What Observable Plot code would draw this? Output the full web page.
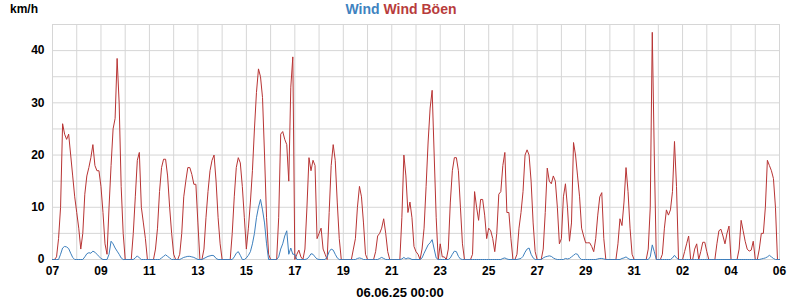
<!DOCTYPE html>
<html>
<head>
<meta charset="utf-8">
<script src="https://cdn.jsdelivr.net/npm/d3@7"></script>
<script src="https://cdn.jsdelivr.net/npm/@observablehq/plot@0.6"></script>
<style>
  html, body { margin: 0; padding: 0; background: #fff; }
  svg { font-family: "Liberation Sans", Arial, sans-serif; }
</style>
</head>
<body>
<div id="chart"></div>
<script>
// Series: 2-hourly samples starting 2025-05-07 00:00 (UTC), ending 2025-06-06 00:00
const startDate = Date.UTC(2025, 4, 7);
const stepHours = 2;

// Wind Böen (gusts), km/h — 12 values per day
const gust = [
  0,0,0.5,4,10,26,24,23,24,20,16,12,            // 07
  9,6,2,5,12.5,16,17.6,19.5,22,18,17,17,        // 08
  14,9,3,1,10,18,25,27,38.5,30,14,5,            // 09
  0,0,0,0,5,12,19,20.5,10,7,4,0,                // 10
  0,0,0,2,6,13,17.6,19.2,19.2,16,10,5,          // 11
  1,0,0,1,5,12,15,17.6,17.6,16.3,14.4,14.4,     // 12
  7,0,0,2,8,13,17,19,20,15,8,3,                 // 13
  0,0,0,0,0,5,12,17.6,19.5,18.5,14,8,           // 14
  2,6,11,17,25,32,36.5,35,31,20,8,1,            // 15
  0,0,0,0,8,24,24.5,23,22,15,33,38.8,           // 16
  0,1,1.8,0.5,0,2,10,19.5,17,19,18,4,           // 17
  5,6,2,1,0,9,18,22,19,11,4,0,                  // 18
  0,0,0,0,0,2,4,10,14,12,7,1,                   // 19
  0,0,0,0,1.5,4.5,5,6,7.8,5,1.5,0,              // 20
  0,0,0,0,0,8,20,16,9,11,8,2.5,                 // 21
  1.5,1,0,2,6,14,22.5,29,32.4,20,8,0,           // 22
  3,0.5,0.5,0,2,11,17,19.5,19.5,17,10,3,        // 23
  0,0,0,0,1,13,10,7.5,11.5,11.5,8.5,4,          // 24
  6,5.5,4,1.5,5,12.5,13,18,20.5,9,9,4,          // 25
  0,0,1,6,9,13,20,21,20,15,7,1.5,               // 26
  0,0,0,2,9,17.5,15,14.5,16,15,10,3,            // 27
  4,12,14.5,10,3.5,7,22.4,20,16,12,6,4.5,       // 28
  3.2,3.2,3.2,2.5,1.5,4,8.5,12,12.8,4,0,0,      // 29
  0,0,0,0,3,7.8,6.5,11,17.6,13,6,1,             // 30
  0,0,0,0,0,0,0,2,10,43.5,20,0,                 // 31
  0,0,1,6,9.5,8.5,9.5,13,22.6,14,0,0,           // 01
  0,1.5,3,4.5,0,0,2,3,0,1.5,3.3,3.3,            // 02
  1.5,0,0,0,0,3,5.5,5.8,4.5,3,5,6.4,            // 03
  0,0,0,0,2,7.5,5.5,3.5,2,1.6,1.8,3.5,          // 04
  0,0,2,5,5,10,19,18,17,15.5,10,0,              // 05
  0                                              // 06 00:00
];

// Wind, km/h — 12 values per day
const wind = [
  0,0,0,0,1,2.2,2.5,2.4,2.1,1.2,0.4,0,          // 07
  0,0,0,0,0.5,1.1,1.3,1.2,1.6,1.4,1,0.6,        // 08
  0.2,0,0,0,1,3.5,3,2.2,1.6,1,0.3,0,            // 09
  0,0,0,0,0,0.3,0.7,0.3,0,0,0,0,                // 10
  0,0,0,0,0,0,0.3,0.6,0.9,0.6,0.3,0,            // 11
  0,0,0,0,0.2,0.4,0.5,0.6,0.6,0.5,0.4,0.2,      // 12
  0,0,0,0.2,0.4,0.6,0.7,0.8,0.7,0.2,0,0,        // 13
  0,0,0,0,0,0,0.5,1.2,1.5,0.8,0,0,              // 14
  0.3,0.8,1.5,3,5,8,10,11.5,9.5,7,3,0,          // 15
  0,0,0,0,0.5,2,3,4.5,5.5,1,2.2,1,              // 16
  1,0,0,0,0,0,0.1,0.5,1.1,1,0.5,0.1,            // 17
  0,0,0,0,0.5,1.5,2,1.8,1,0.3,0,0,              // 18
  0,0,0,0,0,0,0,0.2,0.3,0.2,0,0,                // 19
  0,0,0,0,0,0,0.2,0.4,0.2,0,0,0,                // 20
  0,0,0,0,0,0.1,0.4,0.1,0.3,0.2,0,0,            // 21
  0,0,0,0.3,1.2,2,2.8,3.2,3.8,2,0.3,0,          // 22
  0,0,0,0,0,0.3,1,1.6,1.5,0.6,0.1,0,            // 23
  0,0,0,0,0,0,0,0,0,0,0,0,                      // 24
  0,0,0,0,0,0,0,0.2,0.3,0.1,0,0,                // 25
  0,0,0,0.1,0.2,0.6,1.4,2,2.2,1,0.3,0,          // 26
  0,0,0,0.3,0.5,0.6,0.7,0.6,0.3,0.1,0,0,        // 27
  0,0,0.2,0.1,0.2,0.5,0.8,1.1,1,0.3,0,0,        // 28
  0,0,0,0,0,0,0.1,0.2,0.2,0.1,0,0,              // 29
  0,0,0,0,0,0,0.2,0.3,0.5,0.2,0,0,              // 30
  0,0,0,0,0,0,0,0,0.5,2.8,1.5,0,                // 31
  0,0,0,0,0,0,0,0.3,0.8,0.3,0,0,                // 01
  0,0,0,0,0,0,0,0,0,0,0,0,                      // 02
  0,0,0,0,0,0,0,0,0,0,0,0,                      // 03
  0,0,0,0,0,0,0,0,0,0,0,0,                      // 04
  0,0,0,0.1,0.2,0.3,0.5,0.8,0.5,0.2,0,0,        // 05
  0                                              // 06 00:00
];

const yLabelTicks = [0, 10, 20, 30, 40];
const yGridTicks = [0, 5, 10, 15, 20, 25, 30, 35, 40, 45];
const dayCount = 30;
const titleParts = ["Wind", "Wind Böen"];
const unitLabel = "km/h";
const dateLabel = "06.06.25 00:00";

const DAY = 24 * 3600e3;
const rows = gust.map((g, i) => ({
  t: new Date(startDate + i * stepHours * 3600e3),
  gust: g,
  wind: wind[i]
}));
const dayGrid = d3.range(0, dayCount + 1).map(i => new Date(startDate + i * DAY));
const dayLabels = d3.range(0, dayCount + 1, 2).map(i => new Date(startDate + i * DAY));

const red = "#b83434";
const blue = "#3d7fbd";
const grid = "#d6d6d6";

const chart = Plot.plot({
  width: 800,
  height: 300,
  marginLeft: 52,
  marginRight: 21,
  marginTop: 24,
  marginBottom: 41,
  style: { fontFamily: "'Liberation Sans', Arial, sans-serif", background: "#fff" },
  x: { type: "utc", domain: [dayGrid[0], dayGrid[dayCount]] },
  y: { domain: [0, 45] },
  marks: [
    Plot.gridX(dayGrid, { stroke: grid, strokeOpacity: 1, strokeWidth: 1 }),
    Plot.gridY(yGridTicks, { stroke: grid, strokeOpacity: 1, strokeWidth: 1 }),
    Plot.frame({ stroke: grid }),
    Plot.line(rows, { x: "t", y: "gust", stroke: red, strokeWidth: 1 }),
    Plot.line(rows, { x: "t", y: "wind", stroke: blue, strokeWidth: 1 }),
    Plot.axisX(dayLabels, {
      tickFormat: d3.utcFormat("%d"), tickSize: 0, tickPadding: 7,
      fontSize: 12, fontWeight: "bold", fill: "#000", label: null
    }),
    Plot.axisY(yLabelTicks, {
      tickSize: 0, tickPadding: 8, fontSize: 12, fontWeight: "bold", fill: "#000", label: null
    })
  ]
});

const svg = d3.select(chart);
svg.append("text")
  .attr("x", 10).attr("y", 13)
  .attr("text-anchor", "start")
  .attr("font-size", 12).attr("font-weight", "bold").attr("fill", "#000")
  .text(unitLabel);
const title = svg.append("text")
  .attr("x", 401).attr("y", 14)
  .attr("text-anchor", "middle")
  .attr("font-size", 14).attr("font-weight", "bold");
title.append("tspan").attr("fill", "#3f83c0").text(titleParts[0]);
title.append("tspan").attr("fill", "#b83c3c").text(" " + titleParts[1]);
svg.append("text")
  .attr("x", 400).attr("y", 297)
  .attr("text-anchor", "middle")
  .attr("font-size", 13).attr("font-weight", "bold").attr("fill", "#000")
  .text(dateLabel);

document.getElementById("chart").appendChild(chart);
</script>
</body>
</html>
